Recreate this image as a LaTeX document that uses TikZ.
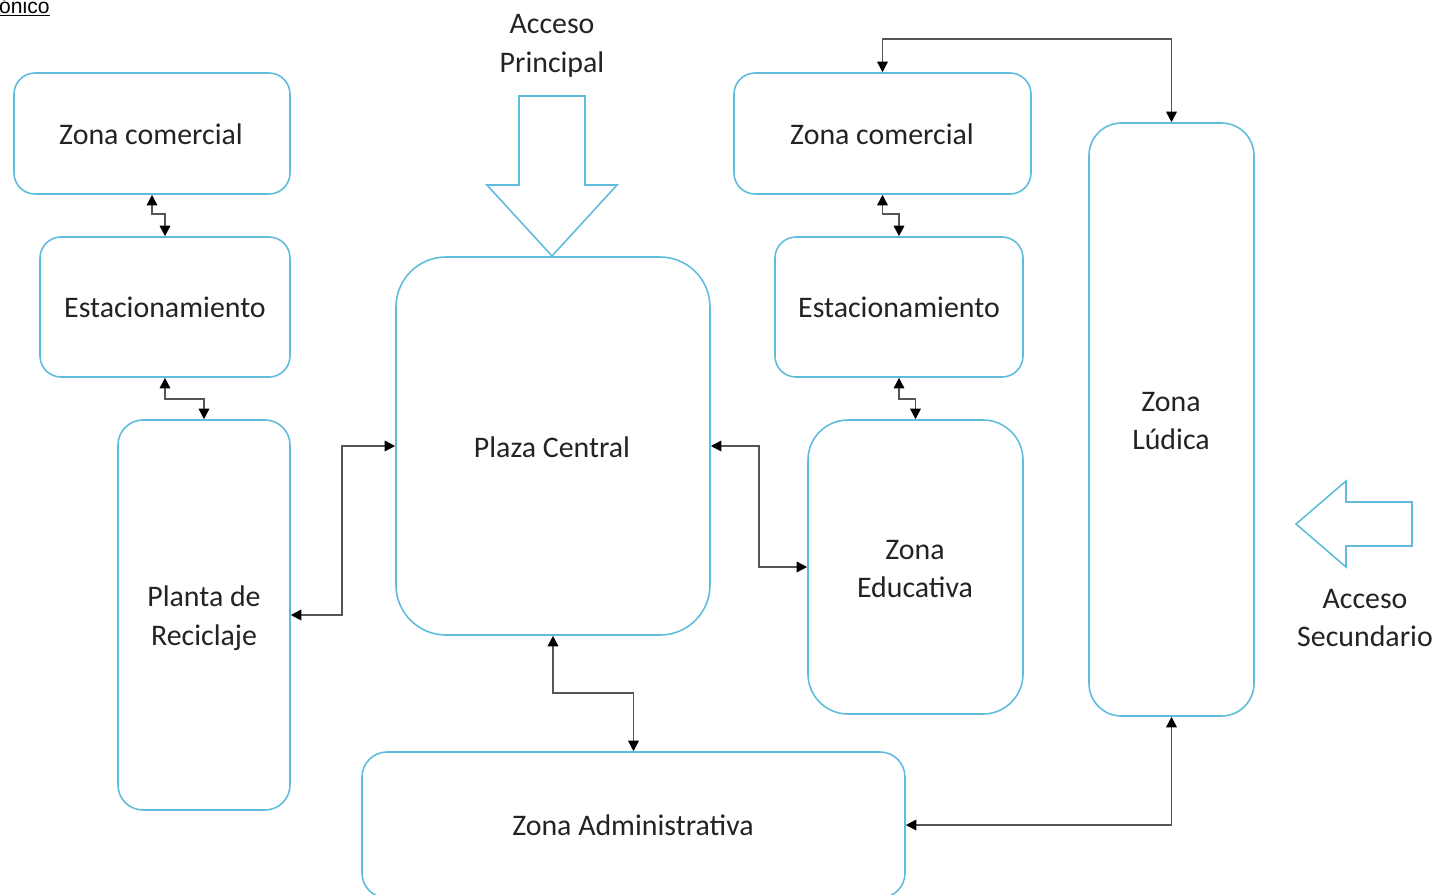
\documentclass[tikz,border=0pt]{standalone}
\usepackage{fontspec}
\setmainfont{Carlito}
\newfontfamily\arialfont{Liberation Sans}
\usetikzlibrary{arrows.meta,fit}
\definecolor{boxblue}{RGB}{96,188,220}
\definecolor{txt}{RGB}{35,35,35}
\definecolor{conncol}{RGB}{85,85,85}
\begin{document}
\begin{tikzpicture}[x=0.02cm,y=-0.02cm,
  zone/.style={draw=boxblue,line width=0.9pt,inner sep=0pt},
  conn/.style={draw=conncol,line width=0.9pt,{Triangle[length=6pt,width=6pt,fill=black,color=black]}-{Triangle[length=6pt,width=6pt,fill=black,color=black]}},
  bigarrow/.style={draw=boxblue,line width=0.9pt,fill=white},
  lbl/.style={align=center,text=txt,inner sep=0pt,font=\fontsize{17}{22}\selectfont}]
\useasboundingbox (0,0) rectangle (1438,894);
% title fragment
\node[anchor=base east,inner sep=0pt,font=\arialfont\fontsize{12}{14}\selectfont] (ttl) at (50,13) {\underline{ónico}};
% boxes
\node[zone,rounded corners=0.42cm,fit={(14,73) (290,194)}] (zc1) {};
\node[zone,rounded corners=0.42cm,fit={(40,237) (290,377)}] (est1) {};
\node[zone,rounded corners=0.5cm,fit={(118,420) (290,810)}] (planta) {};
\node[zone,rounded corners=1.0cm,fit={(396,257) (710,635)}] (plaza) {};
\node[zone,rounded corners=0.42cm,fit={(734,73) (1031,194)}] (zc2) {};
\node[zone,rounded corners=0.42cm,fit={(775,237) (1023,377)}] (est2) {};
\node[zone,rounded corners=0.8cm,fit={(808,420) (1023,714)}] (educ) {};
\node[zone,rounded corners=0.65cm,fit={(1089,123) (1254,716)}] (ludica) {};
\node[zone,rounded corners=0.5cm,fit={(362,752) (905,898)}] (admin) {};
% labels
\node[lbl] (zc1t) at (151,134) {Zona comercial};
\node[lbl] (est1t) at (165,307) {Estacionamiento};
\node[lbl] (plantat) at (204,618) {Planta de\\Reciclaje};
\node[lbl] (plazat) at (552,447) {Plaza Central};
\node[lbl] (zc2t) at (882,134) {Zona comercial};
\node[lbl] (est2t) at (899,307) {Estacionamiento};
\node[lbl] (educt) at (915,569) {Zona\\Educativa};
\node[lbl] (ludicat) at (1171,421) {Zona\\Lúdica};
\node[lbl] (admint) at (633,825) {Zona Administrativa};
% big arrows
\draw[bigarrow] (519,96) -- (585,96) -- (585,185) -- (617,185) -- (552,256) -- (487,185) -- (519,185) -- cycle;
\draw[bigarrow] (1412,502) -- (1412,546) -- (1346,546) -- (1346,567) -- (1296,524) -- (1346,481) -- (1346,502) -- cycle;
\node[lbl] (accp) at (552,46) {Acceso\\Principal};
\node[lbl] (accs) at (1365,618) {Acceso\\Secundario};
% connectors
\draw[conn] (zc1.south) -- ++(0,19) -| (est1.north);
\draw[conn] (est1.south) -- ++(0,21) -| (planta.north);
\draw[conn] (plaza.west) -- ++(-53,0) |- (planta.east);
\draw[conn] (plaza.east) -- ++(48,0) |- (educ.west);
\draw[conn] (plaza.south) -- ++(0,57) -| (admin.north);
\draw[conn] (zc2.south) -- ++(0,19) -| (est2.north);
\draw[conn] (est2.south) -- ++(0,21) -| (educ.north);
\draw[conn] (zc2.north) -- ++(0,-33) -| (ludica.north);
\draw[conn] (ludica.south) |- (admin.east);
\end{tikzpicture}
\end{document}
